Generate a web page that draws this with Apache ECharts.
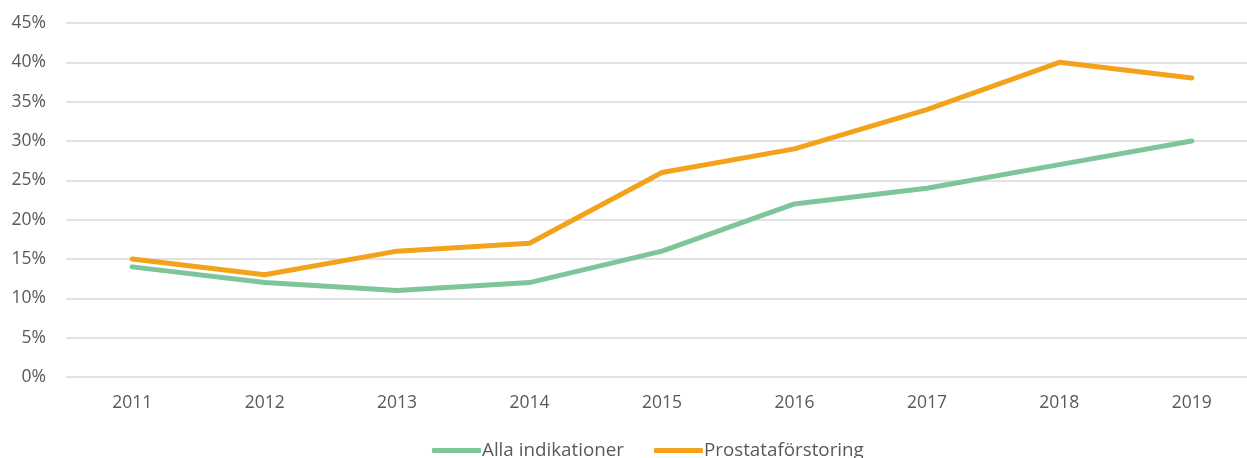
<!DOCTYPE html>
<html>
<head>
<meta charset="utf-8">
<script src="https://cdn.jsdelivr.net/npm/echarts@6/dist/echarts.min.js"></script>
<style>
  html, body { margin: 0; padding: 0; background: #fff; overflow: hidden; }
  #chart { width: 1270px; height: 458px; }
</style>
</head>
<body>
<div id="chart"></div>
<script>
// data
const years = ['2011', '2012', '2013', '2014', '2015', '2016', '2017', '2018', '2019'];
const allaIndikationer = [14, 12, 11, 12, 16, 22, 24, 27, 30];
const prostataforstoring = [15, 13, 16, 17, 26, 29, 34, 40, 38];

const chart = echarts.init(document.getElementById('chart'));

const option = {
  backgroundColor: '#fff',
  animation: false,
  color: ['#7fc59a', '#f2a31b'],
  textStyle: { fontFamily: 'Open Sans' },
  grid: {
    left: 66,
    top: 23,
    width: 1192,
    height: 354
  },
  legend: {
    top: 436,
    left: 427,
    itemWidth: 49,
    itemHeight: 5,
    itemGap: 30,
    icon: 'roundRect',
    textStyle: { color: '#595959', fontSize: 18.8, padding: [0, 0, 0, -4] },
    data: ['Alla indikationer', 'Prostataförstoring']
  },
  xAxis: {
    type: 'category',
    data: years,
    boundaryGap: true,
    axisLine: { show: false },
    axisTick: { show: false },
    axisLabel: { color: '#595959', fontSize: 17.5, margin: 17 }
  },
  yAxis: {
    type: 'value',
    min: 0,
    max: 45,
    interval: 5,
    axisLine: { show: false },
    axisTick: { show: false },
    axisLabel: { color: '#595959', fontSize: 17.5, margin: 20, formatter: '{value}%' },
    splitLine: { lineStyle: { color: '#d9d9d9', width: 1.5 } }
  },
  series: [
    {
      name: 'Alla indikationer',
      type: 'line',
      data: allaIndikationer,
      symbol: 'none',
      lineStyle: { width: 5, cap: 'round', join: 'round' }
    },
    {
      name: 'Prostataförstoring',
      type: 'line',
      data: prostataforstoring,
      symbol: 'none',
      lineStyle: { width: 5, cap: 'round', join: 'round' }
    }
  ]
};

chart.setOption(option);
</script>
</body>
</html>
